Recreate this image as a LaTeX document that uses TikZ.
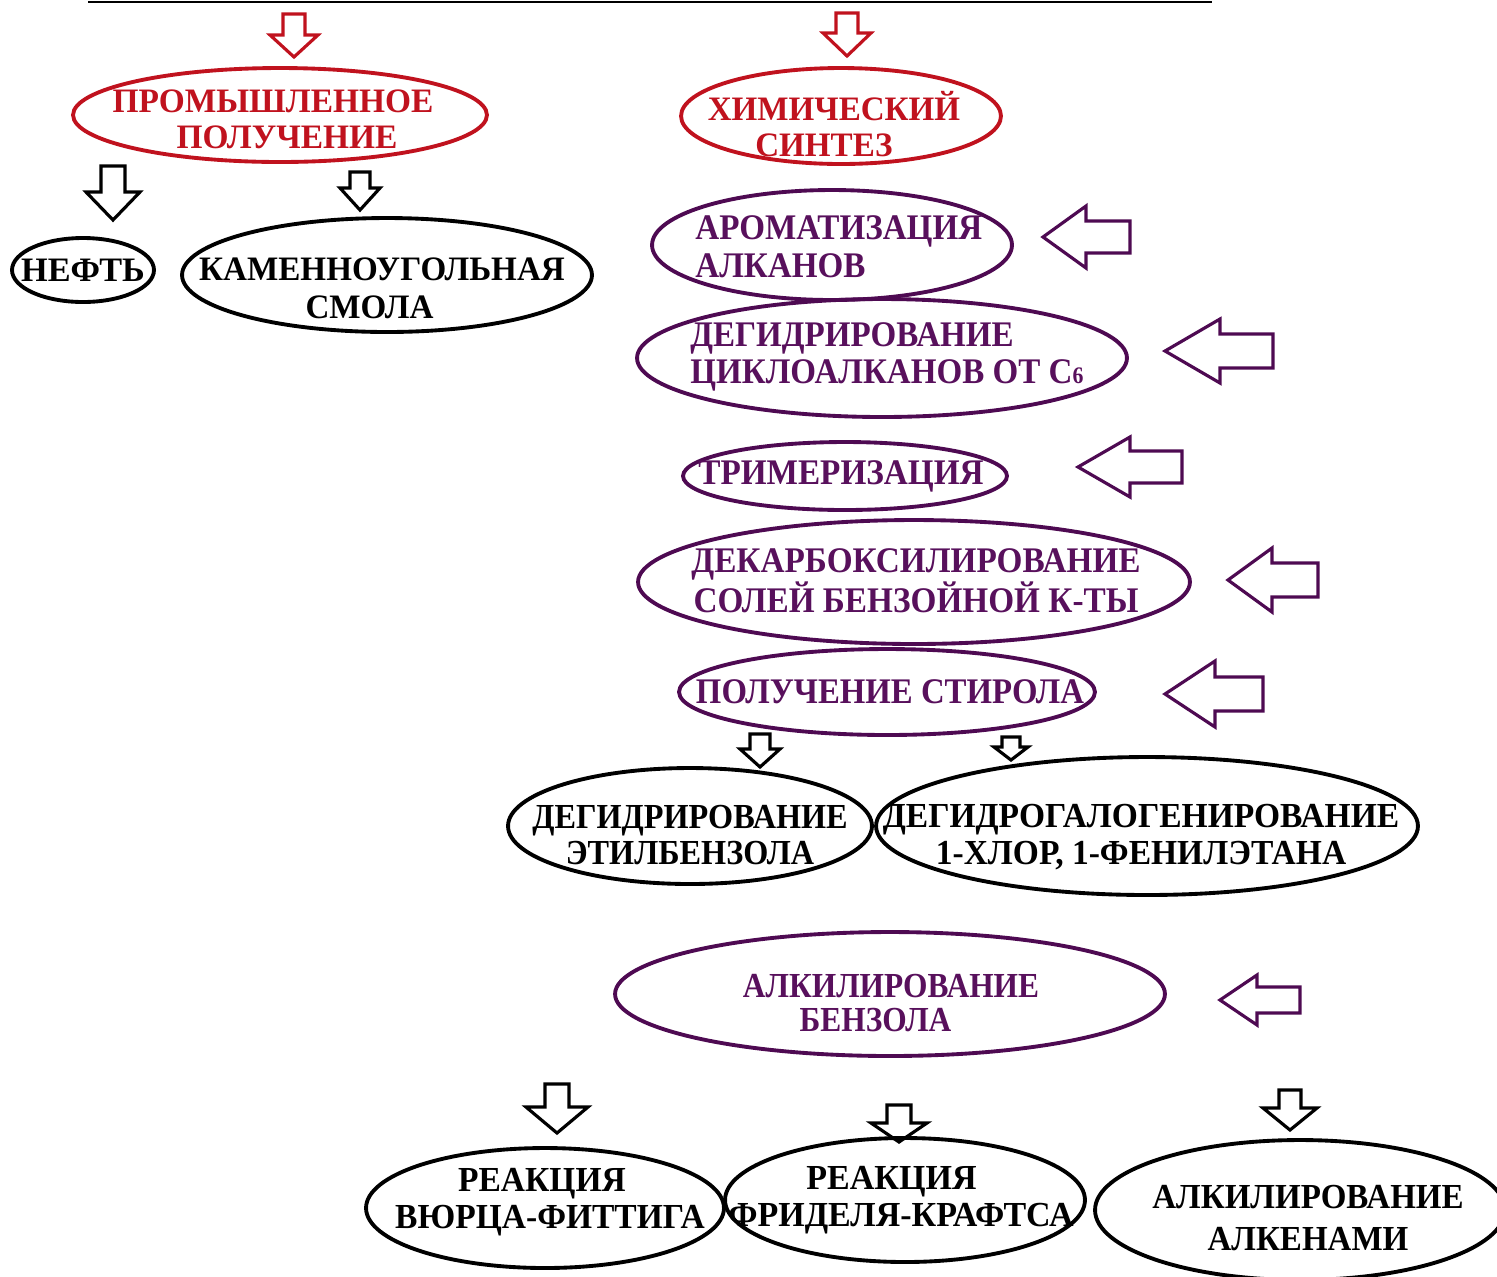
\documentclass[tikz,border=0pt]{standalone}
\usepackage{fontspec}
\setmainfont{Liberation Serif}
\usetikzlibrary{shapes.geometric}
\definecolor{redc}{RGB}{192,18,30}
\definecolor{purp}{RGB}{78,10,82}
\definecolor{purpt}{RGB}{88,16,92}
\newcommand\tf[3]{\bfseries\fontsize{#1}{#2}\selectfont\addfontfeatures{FakeStretch=#3}}
\newcommand\dnarrow[7]{\draw[#1] ({#2-#6},#3) -- ({#2+#6},#3) -- ({#2+#6},#4) -- ({#2+#7},#4) -- (#2,#5) -- ({#2-#7},#4) -- ({#2-#6},#4) -- cycle;}
\newcommand\lfarrow[7]{\draw[#1] (#2,#3) -- (#4,{#3-#7}) -- (#4,{#3-#6}) -- (#5,{#3-#6}) -- (#5,{#3+#6}) -- (#4,{#3+#6}) -- (#4,{#3+#7}) -- cycle;}
\tikzset{
  ell/.style={ellipse, draw, line width=2.2pt, inner sep=0pt},
  redell/.style={ell, draw=redc},
  purell/.style={ell, draw=purp},
  blkell/.style={ell, draw=black},
  redtxt/.style={text=redc, align=center, inner sep=0pt},
  purtxt/.style={text=purpt, align=center, inner sep=0pt},
  blktxt/.style={text=black, align=center, inner sep=0pt},
  redarr/.style={draw=redc, line width=1.8pt},
  blkarr/.style={draw=black, line width=1.8pt},
  purarr/.style={draw=purp, line width=1.8pt},
}
\begin{document}
\begin{tikzpicture}[x=0.02cm, y=-0.02cm]
\useasboundingbox (0,0) rectangle (1497,1276);
% top rule
\coordinate (L0) at (88,2);
\coordinate (L1) at (1212,2);
\draw[line width=1.4pt] (L0) -- (L1);

% red arrows
\dnarrow{redarr}{294}{14}{35}{57}{11}{24}
\dnarrow{redarr}{847}{13}{33}{56}{11}{24}

% level 1
\node[redell, minimum width=8.28cm, minimum height=1.88cm] (prom) at (280,115) {};
\node[redtxt, font=\tf{19.5}{20.5}{0.976}] (tprom) at (280,119) {ПРОМЫШЛЕННОЕ\hspace*{0.28cm}\\\hspace*{0.28cm}ПОЛУЧЕНИЕ};
\node[redell, minimum width=6.40cm, minimum height=1.92cm] (chem) at (841,116) {};
\node[redtxt, font=\tf{19.5}{20.8}{0.966}] (tchem) at (834,124) {ХИМИЧЕСКИЙ\\СИНТЕЗ\hspace*{0.4cm}};

% black arrows under prom
\dnarrow{blkarr}{113}{166}{192}{220}{12}{27}
\dnarrow{blkarr}{360}{172}{188}{210}{10}{20}

\node[blkell, minimum width=2.84cm, minimum height=1.28cm] (neft) at (83,270) {};
\node[blktxt, font=\tf{19.5}{20}{1.0}] (tneft) at (83,270) {НЕФТЬ};
\node[blkell, minimum width=8.20cm, minimum height=2.28cm] (kam) at (387,275) {};
\node[blktxt, font=\tf{19.5}{21.5}{0.967}] (tkam) at (382,288) {КАМЕННОУГОЛЬНАЯ\\СМОЛА\hspace*{0.5cm}};

% chemical synthesis column
\node[purell, minimum width=7.20cm, minimum height=2.20cm] (arom) at (832,245) {};
\node[purtxt, align=left, anchor=west, font=\tf{20.5}{21.5}{0.92}] (tarom) at (695,247) {АРОМАТИЗАЦИЯ\\АЛКАНОВ};
\lfarrow{purarr}{1043}{237}{1086}{1130}{16}{31}

\node[purell, minimum width=9.80cm, minimum height=2.36cm] (cyclo) at (882,358) {};
\node[purtxt, align=left, anchor=west, font=\tf{20.5}{21.3}{0.918}] (tcyclo) at (690,357) {ДЕГИДРИРОВАНИЕ\\ЦИКЛОАЛКАНОВ ОТ С{\fontsize{13.5}{13.5}\selectfont 6}};
\lfarrow{purarr}{1165}{351}{1220}{1273}{17}{32}

\node[purell, minimum width=6.48cm, minimum height=1.36cm] (trim) at (845,476) {};
\node[purtxt, font=\tf{20.5}{21}{0.923}] (ttrim) at (841,476) {ТРИМЕРИЗАЦИЯ};
\lfarrow{purarr}{1078}{467}{1130}{1182}{16}{30}

\node[purell, minimum width=11.04cm, minimum height=2.48cm] (decarb) at (914,582) {};
\node[purtxt, font=\tf{20.5}{21.3}{0.924}] (tdecarb) at (916,581) {ДЕКАРБОКСИЛИРОВАНИЕ\\СОЛЕЙ БЕНЗОЙНОЙ К-ТЫ};
\lfarrow{purarr}{1228}{580}{1272}{1318}{17}{32}

\node[purell, minimum width=8.32cm, minimum height=1.72cm] (styr) at (887,692) {};
\node[purtxt, font=\tf{20.5}{21}{0.911}] (tstyr) at (890,692) {ПОЛУЧЕНИЕ СТИРОЛА};
\lfarrow{purarr}{1165}{694}{1215}{1263}{17}{33}

% styrene routes
\dnarrow{blkarr}{760}{734}{749}{767}{10}{20}
\dnarrow{blkarr}{1011}{737}{747}{760}{9}{17}
\node[blkell, minimum width=7.28cm, minimum height=2.32cm] (ethb) at (690,826) {};
\node[blktxt, font=\tf{20}{21}{0.918}] (tethb) at (690,835) {ДЕГИДРИРОВАНИЕ\\ЭТИЛБЕНЗОЛА};
\node[blkell, minimum width=10.84cm, minimum height=2.76cm] (dhal) at (1147,826) {};
\node[blktxt, font=\tf{20}{21.2}{0.954}] (tdhal) at (1141,837) {ДЕГИДРОГАЛОГЕНИРОВАНИЕ\\1-ХЛОР, 1-ФЕНИЛЭТАНА};

% alkylation of benzene
\node[purell, minimum width=11.00cm, minimum height=2.48cm] (alkb) at (890,994) {};
\node[purtxt, font=\tf{20}{19.8}{0.894}] (talkb) at (891,1003) {АЛКИЛИРОВАНИЕ\\БЕНЗОЛА\hspace*{0.62cm}};
\lfarrow{purarr}{1220}{1000}{1257}{1300}{13}{25}

\dnarrow{blkarr}{557}{1084}{1107}{1133}{12}{31}
\dnarrow{blkarr}{899}{1105}{1123}{1142}{12}{28}
\dnarrow{blkarr}{1290}{1090}{1108}{1130}{11}{27}

\node[blkell, minimum width=7.16cm, minimum height=2.40cm] (wurtz) at (545,1208) {};
\node[blktxt, font=\tf{20}{21.2}{0.954}] (twurtz) at (550,1202) {РЕАКЦИЯ\hspace*{0.32cm}\\ВЮРЦА-ФИТТИГА};
\node[blkell, minimum width=7.20cm, minimum height=2.48cm] (fried) at (905,1200) {};
\node[blktxt, font=\tf{20}{21.2}{0.968}] (tfried) at (901,1200) {РЕАКЦИЯ\hspace*{0.38cm}\\ФРИДЕЛЯ-КРАФТСА};
\node[blkell, minimum width=8.20cm, minimum height=2.80cm] (alken) at (1300,1210) {};
\node[blktxt, font=\tf{20}{23.9}{0.94}] (talken) at (1308,1218) {АЛКИЛИРОВАНИЕ\\АЛКЕНАМИ};
\end{tikzpicture}
\end{document}
